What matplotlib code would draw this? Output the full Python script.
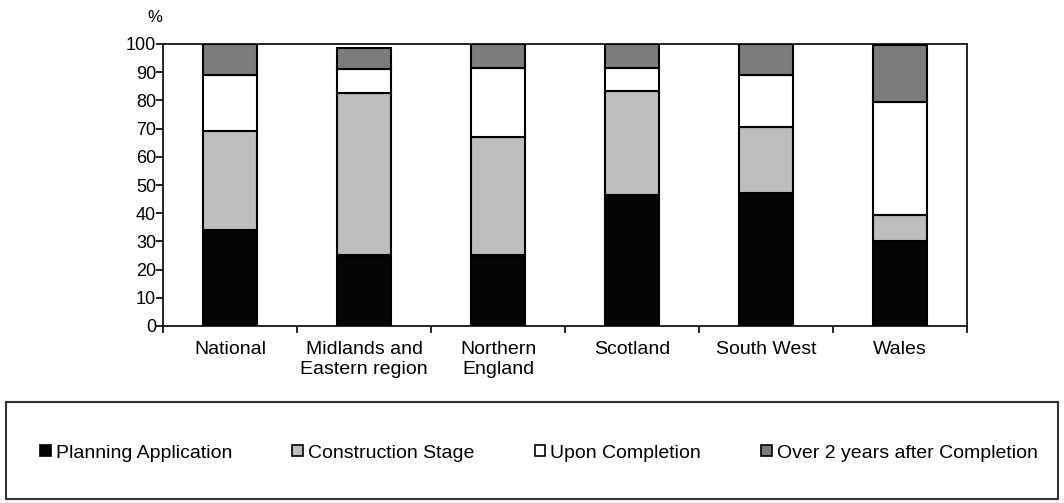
import matplotlib.pyplot as plt
import matplotlib.patches as mpatches
import numpy as np

plt.rcParams['font.family'] = ['Liberation Sans', 'DejaVu Sans']

# regions and the share (%) of each stage
regions = ['National', 'Midlands and\nEastern region', 'Northern\nEngland',
           'Scotland', 'South West', 'Wales']
planning = [34, 25, 25, 46.5, 47, 30]
construction = [35, 57.5, 42, 37, 23.5, 9.5]
completion = [20, 8.5, 24.5, 8, 18.5, 40]
over2 = [11, 7.5, 8.5, 8.5, 11, 20]

series = [planning, construction, completion, over2]
names = ['Planning Application', 'Construction Stage', 'Upon Completion',
         'Over 2 years after Completion']
colors = ['#050505', '#bdbdbd', '#ffffff', '#7c7c7c']

fig = plt.figure(figsize=(10.64, 5.03), dpi=100)
ax = fig.add_axes([163/1064, 1-326/503, (967-163)/1064, (326-44)/503])

x = np.arange(len(regions))
bottom = np.zeros(len(regions))
for vals, c in zip(series, colors):
    ax.bar(x, vals, width=0.4, bottom=bottom, color=c,
           edgecolor='black', linewidth=1.5)
    bottom += np.array(vals)

ax.set_xlim(-0.5, len(regions) - 0.5)
ax.set_ylim(0, 100)
ax.set_yticks(range(0, 101, 10))
ax.set_xticks(x)
ax.set_xticklabels(regions, fontsize=14, linespacing=1.2)
ax.tick_params(axis='y', labelsize=13, length=5, width=1.2, pad=0)
# category boundary ticks on x axis
ax.set_xticks(np.arange(-0.5, len(regions)), minor=True)
ax.tick_params(axis='x', which='major', length=0, pad=11)
ax.tick_params(axis='x', which='minor', length=5, width=1.2)
for s in ax.spines.values():
    s.set_linewidth(1.2)

fig.text(155/1064, 1-18/503, '%', fontsize=12, ha='center', va='center')

# legend frame
frame = mpatches.Rectangle((6/1064, 1-499/503), 1052/1064, 97/503,
                           transform=fig.transFigure, fill=False,
                           edgecolor='#333333', linewidth=1.5)
fig.patches.append(frame)

handles = [mpatches.Patch(facecolor=c, edgecolor='black', linewidth=1.2) for c in colors]
fig.legend(handles, names, loc='center', bbox_to_anchor=(539/1064, 1-453/503),
           ncol=4, frameon=False, fontsize=14, handlelength=0.55,
           handleheight=0.55, handletextpad=0.25, columnspacing=3.1)

fig.savefig('out.png', dpi=100)
